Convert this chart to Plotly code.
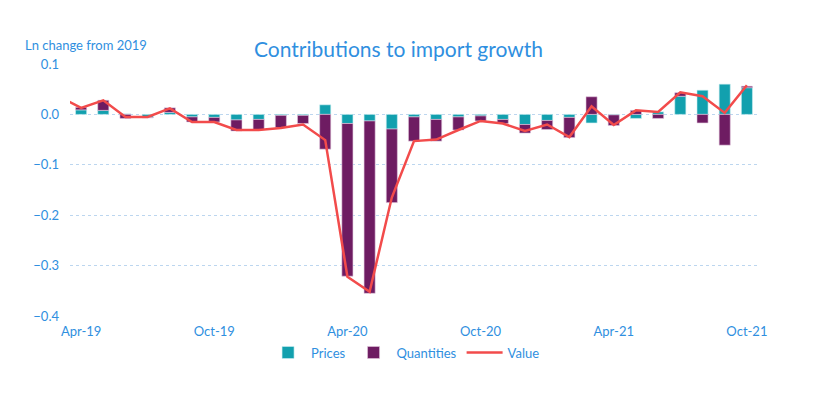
import pandas as pd
import plotly.graph_objects as go

# Monthly categories (Mar-19 only carries the clipped start of the Value line)
months_all = list(pd.date_range("2019-03-01", "2021-10-01", freq="MS").strftime("%b-%y"))
months = months_all[1:]  # Apr-19 .. Oct-21

prices = [0.009, 0.008, 0.001, -0.006, 0.004, -0.005, -0.006, -0.011, -0.010, -0.002,
          -0.002, 0.019, -0.018, -0.013, -0.029, -0.005, -0.010, -0.005, -0.003, -0.010,
          -0.020, -0.012, -0.006, -0.017, -0.001, -0.008, 0.005, 0.036, 0.048, 0.060, 0.053]

quantities = [0.005, 0.020, -0.008, -0.001, 0.009, -0.010, -0.009, -0.022, -0.020, -0.024,
              -0.016, -0.069, -0.303, -0.342, -0.146, -0.048, -0.043, -0.026, -0.010, -0.008,
              -0.017, -0.018, -0.040, 0.035, -0.021, 0.008, -0.008, 0.007, -0.017, -0.061, 0.003]

value = [0.036, 0.013, 0.028, -0.005, -0.005, 0.012, -0.015, -0.015, -0.031, -0.031, -0.027,
         -0.020, -0.051, -0.322, -0.352, -0.165, -0.053, -0.050, -0.031, -0.013, -0.018,
         -0.033, -0.020, -0.045, 0.016, -0.021, 0.008, 0.005, 0.044, 0.036, 0.003, 0.058]

tick_labels = ["Apr-19", "Oct-19", "Apr-20", "Oct-20", "Apr-21", "Oct-21"]
y_ticks = [0.1, 0.0, -0.1, -0.2, -0.3, -0.4]

TEAL = "#12A0AE"
PURPLE = "#6E1C62"
RED = "#F24B4B"
BLUE = "#2F8FE0"
FONT = "Lato"

fig = go.Figure()
fig.add_trace(go.Bar(x=months, y=prices, name="Prices",
                     marker=dict(color=TEAL, line=dict(color="#CDEFF2", width=0.6))))
fig.add_trace(go.Bar(x=months, y=quantities, name="Quantities",
                     marker=dict(color=PURPLE, line=dict(color="#E2C8DD", width=0.6))))
fig.add_trace(go.Scatter(x=months_all, y=value, name="Value", mode="lines",
                         line=dict(color=RED, width=2.5), cliponaxis=True))

fig.update_layout(
    width=822, height=417,
    margin=dict(l=62, r=72, t=56, b=109),
    paper_bgcolor="white", plot_bgcolor="white",
    barmode="relative", bargap=0.5,
    font=dict(family=FONT, size=12, color=BLUE),
    showlegend=True,
    legend=dict(orientation="h", x=0.487, xanchor="center", y=-0.145, yanchor="middle",
                font=dict(family=FONT, size=13, color=BLUE), traceorder="normal",
                itemwidth=36),
    annotations=[
        dict(text="Contributions to import growth", xref="paper", yref="paper",
             x=0.478, y=1.06, xanchor="center", yanchor="middle", showarrow=False,
             font=dict(family=FONT, size=21, color=BLUE)),
        dict(text="Ln change from 2019", xref="paper", yref="paper",
             x=-0.068, y=1.075, xanchor="left", yanchor="middle", showarrow=False,
             font=dict(family=FONT, size=13, color=BLUE)),
    ],
)

fig.update_xaxes(type="category", categoryorder="array", categoryarray=months_all,
                 range=[0.5, len(months_all) - 0.5],
                 tickmode="array", tickvals=tick_labels, ticktext=tick_labels,
                 showgrid=False, showline=False, zeroline=False, ticks="",
                 ticklabelstandoff=6,
                 tickfont=dict(family=FONT, size=13, color=BLUE))
fig.update_yaxes(range=[-0.4, 0.1], tickmode="array", tickvals=y_ticks,
                 tickformat=".1f", showgrid=True, gridcolor="#BCD6EF", griddash="dot",
                 gridwidth=1, zeroline=False, showline=False, ticks="",
                 ticklabelstandoff=10,
                 tickfont=dict(family=FONT, size=13, color=BLUE))

fig.write_html("out.html")
